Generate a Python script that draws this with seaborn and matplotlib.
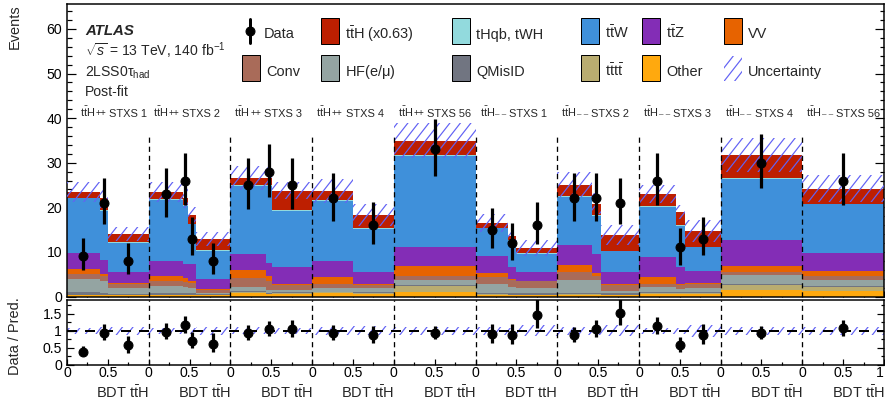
import numpy as np
import pandas as pd
import matplotlib
matplotlib.use("Agg")
import matplotlib.pyplot as plt
import matplotlib.transforms as mtransforms
from matplotlib.patches import Rectangle
from matplotlib.collections import LineCollection
from matplotlib.ticker import FixedLocator, MultipleLocator
import seaborn as sns

# ---------------- data ----------------
region_signs = ["++", "++", "++", "++", "++",
                "\u2013 \u2013", "\u2013 \u2013", "\u2013 \u2013", "\u2013 \u2013", "\u2013 \u2013"]
region_stxs = ["STXS 1", "STXS 2", "STXS 3", "STXS 4", "STXS 56",
               "STXS 1", "STXS 2", "STXS 3", "STXS 4", "STXS 56"]
region_edges = [[0, 0.4, 0.5, 1], [0, 0.42, 0.48, 0.58, 1], [0, 0.43, 0.51, 1],
                [0, 0.5, 1], [0, 1], [0, 0.4, 0.5, 1], [0, 0.42, 0.53, 1],
                [0, 0.45, 0.56, 1], [0, 1], [0, 1]]
bdt_titles = [r"BDT $\mathrm{t\bar{t}H}$"] * 5 + ["BDT ttH"] + [r"BDT $\mathrm{t\bar{t}H}$"] * 4

other  = [0.3, 0.3, 0.3, 0.3, 0.3, 0.3, 0.3, 0.7, 0.5, 0.6, 0.7, 0.6, 1.1, 0.4, 0.3, 0.3, 0.4, 0.4, 0.3, 0.5, 0.5, 0.5, 1.5, 1.3]
tttt   = [0.1, 0.1, 0.1, 0.1, 0.1, 0.1, 0.1, 0.2, 0.1, 0.1, 0.2, 0.2, 1.3, 0.1, 0.1, 0.1, 0.1, 0.1, 0.1, 0.2, 0.2, 0.2, 1.0, 0.9]
qmisid = [0.7, 0.3, 0.2, 0.3, 0.3, 0.3, 0.1, 0.3, 0.2, 0.2, 0.2, 0.2, 0.2, 0.3, 0.3, 0.3, 0.3, 0.3, 0.3, 0.3, 0.2, 0.2, 0.2, 0.2]
hf     = [2.8, 2.7, 1.2, 1.7, 1.5, 1.1, 0.3, 1.0, 0.6, 0.5, 0.8, 0.9, 1.0, 2.0, 1.5, 1.2, 2.9, 2.8, 0.5, 1.2, 0.7, 1.0, 2.1, 1.3]
conv   = [1.1, 1.1, 1.1, 1.0, 1.1, 1.2, 0.6, 1.9, 2.1, 1.2, 1.0, 0.7, 1.05, 1.5, 1.5, 1.5, 1.7, 0.9, 1.4, 0.7, 1.0, 1.0, 0.6, 0.8]
vv     = [1.1, 0.6, 0.2, 1.25, 0.9, 0.5, 0.2, 1.9, 1.1, 0.2, 1.4, 0.2, 2.25, 0.9, 0.3, 0.1, 1.6, 0.7, 0.2, 1.4, 0.3, 0.1, 1.5, 1.3]
ttz    = [3.7, 3.1, 2.5, 3.35, 3.1, 3.8, 2.4, 3.6, 3.0, 3.8, 3.7, 2.6, 4.3, 3.8, 2.7, 2.0, 4.6, 4.3, 2.8, 4.5, 3.8, 2.8, 5.7, 4.0]
ttw    = [12.2, 11.0, 6.5, 13.7, 13.0, 8.9, 6.2, 15.2, 17.2, 12.6, 13.4, 9.8, 20.3, 6.3, 5.8, 4.0, 10.8, 8.6, 4.5, 11.3, 9.1, 5.2, 13.8, 10.9]
thqb   = [0.15] * 24
tth    = [1.3, 2.8, 1.7, 1.6, 1.7, 2.0, 2.5, 1.7, 1.7, 4.4, 2.1, 2.9, 3.3, 1.1, 0.9, 1.3, 2.5, 2.6, 3.5, 2.7, 3.0, 3.6, 5.1, 3.3]
unc    = [2.3, 2.2, 1.6, 2.2, 2.2, 1.8, 1.6, 2.7, 2.7, 1.9, 2.6, 2.4, 4.0, 2.0, 1.2, 1.8, 2.8, 2.4, 2.2, 2.0, 1.5, 2.5, 3.8, 3.0]

data    = [9, 21, 8, 23, 26, 13, 8, 25, 28, 25, 22, 16, 33, 15, 12, 16, 22, 22, 21, 26, 11, 13, 30, 26]
data_lo = [5.9, 16.3, 5.0, 17.9, 20.6, 9.2, 5.0, 19.7, 22.4, 19.7, 17.0, 11.8, 27.1, 10.9, 8.2, 11.8, 17.0, 17.0, 16.3, 20.6, 7.1, 9.2, 24.4, 20.6]
data_hi = [13.1, 26.6, 12.0, 28.8, 32.1, 17.9, 12.0, 31.1, 34.3, 31.1, 27.7, 21.1, 39.8, 19.9, 16.4, 21.1, 27.7, 27.7, 26.6, 32.1, 15.3, 17.9, 36.4, 32.1]

# stacking order: first = top
proc_keys = ["ttH", "tHqb", "ttW", "ttZ", "VV", "Conv", "HF", "QMisID", "tttt", "Other"]
proc_vals = [tth, thqb, ttw, ttz, vv, conv, hf, qmisid, tttt, other]
proc_cols = ["#bd1f01", "#92dadd", "#3f90da", "#832db6", "#e76300",
             "#a96b59", "#94a4a2", "#717581", "#b9ac70", "#ffa90e"]
legend_row1 = [r"$\mathrm{t\bar{t}H}$ (x0.63)", "tHqb, tWH", r"$\mathrm{t\bar{t}W}$",
               r"$\mathrm{t\bar{t}Z}$", "VV"]
legend_row2 = ["Conv", r"HF(e/$\mathrm{\mu}$)", "QMisID", r"$\mathrm{t\bar{t}t\bar{t}}$", "Other"]
HATCH = "#6262f4"

# ---------------- derived ----------------
nreg = len(region_edges)
gl_edges = np.concatenate([np.array(e[:-1], float) + i for i, e in enumerate(region_edges)] + [[float(nreg)]])
centers = 0.5 * (gl_edges[:-1] + gl_edges[1:])
widths = np.diff(gl_edges)
nb = len(centers)
total = np.sum(np.array(proc_vals), axis=0)
unc_a = np.array(unc)
data_a = np.array(data, float)
lo_a = np.array(data_lo)
hi_a = np.array(data_hi)

df = pd.DataFrame({
    "x": np.tile(centers, len(proc_keys)),
    "w": np.concatenate(proc_vals),
    "proc": np.repeat(proc_keys, nb),
})

# ---------------- style ----------------
sns.set_style("ticks")
plt.rcParams.update({
    "font.family": ["Liberation Sans", "DejaVu Sans"],
    "mathtext.fontset": "custom",
    "mathtext.rm": "Liberation Sans",
    "mathtext.it": "Liberation Sans:italic",
    "mathtext.bf": "Liberation Sans:bold",
    "axes.linewidth": 1.5,
    "axes.edgecolor": "black",
    "xtick.color": "black",
    "ytick.color": "black",
})

W, H = 885, 408
fig = plt.figure(figsize=(W / 72, H / 72), dpi=72)
renderer = fig.canvas.get_renderer()


def axrect(l, t, r, b):
    return [l / W, 1 - b / H, (r - l) / W, (b - t) / H]


# diagonal hatch lines in display pixels (clipped to each uncertainty box)
def hatch_lines(spacing=10.5, angle=52):
    run = H / np.tan(np.radians(angle))
    starts = np.arange(-run - spacing, W + spacing, spacing)
    return [[(s, 0), (s + run, H)] for s in starts]


HSEGS = hatch_lines()


def add_hatch(axis, patches, z):
    for p in patches:
        lc = LineCollection(HSEGS, colors=HATCH, linewidths=1.2,
                            transform=mtransforms.IdentityTransform(), zorder=z)
        axis.add_collection(lc, autolim=False)
        lc.set_clip_path(p)


ax = fig.add_axes(axrect(67, 4, 884, 296.5))
ax_r = fig.add_axes(axrect(67, 299.5, 884, 365))

# ---- main stack ----
sns.histplot(data=df, x="x", weights="w", hue="proc", hue_order=proc_keys,
             palette=dict(zip(proc_keys, proc_cols)), bins=[float(b) for b in gl_edges],
             multiple="stack", element="bars", linewidth=0, alpha=1,
             legend=False, ax=ax)
ax.set_xlim(0, nreg)
ax.set_ylim(0, 65.6)
unc_bars = ax.bar(gl_edges[:-1], 2 * unc_a, bottom=total - unc_a, width=widths, align="edge",
                  fill=False, linewidth=0, zorder=3)
add_hatch(ax, unc_bars.patches, 3)
ax.errorbar(centers, data_a, yerr=[data_a - lo_a, hi_a - data_a], fmt="o", color="black",
            ms=9, elinewidth=3.2, capsize=0, zorder=6)
ax.vlines(np.arange(1, nreg), 0, 35.7, colors="black", linestyles=(0, (4, 3)), lw=1.3, zorder=5)

ax.set_xlim(0, nreg)
ax.set_ylim(0, 65.6)
ax.set_xlabel("")
ax.set_ylabel("")
ax.yaxis.set_major_locator(MultipleLocator(10))
ax.yaxis.set_minor_locator(MultipleLocator(2))

xmaj = np.arange(0, nreg + 0.01, 0.5)
xmin = np.concatenate([[i + 0.25, i + 0.75] for i in range(nreg)])
xlabels = [("1" if v == nreg else "0") if float(v).is_integer() else "0.5" for v in xmaj]
for a in (ax, ax_r):
    a.xaxis.set_major_locator(FixedLocator(xmaj))
    a.xaxis.set_minor_locator(FixedLocator(xmin))
    a.tick_params(axis="both", which="both", direction="in", top=False, right=True,
                  width=1.2, labelsize=14)
ax.tick_params(axis="y", which="major", length=9, pad=5)
ax.tick_params(axis="y", which="minor", length=4.5)
ax.tick_params(axis="x", which="major", length=6, labelbottom=False)
ax.tick_params(axis="x", which="minor", length=3)

# region labels: ttH + small sign + STXS n
for i in range(nreg):
    x0 = i + (0.16 if i == 0 else 0.05)
    t1 = ax.text(x0, 40.2, r"$\mathrm{t\bar{t}H}$", fontsize=11, va="baseline", ha="left")
    w1 = t1.get_window_extent(renderer).width
    plus = region_signs[i] == "++"
    t2 = ax.text(x0, 40.2, region_signs[i], fontsize=9.5 if plus else 8, va="baseline", ha="left",
                 transform=mtransforms.offset_copy(ax.transData, fig=fig, x=w1 + 0.5,
                                                   y=1.0 if plus else 1.0, units="dots"))
    w2 = t2.get_window_extent(renderer).width
    ax.text(x0, 40.2, region_stxs[i], fontsize=11, va="baseline", ha="left",
            transform=mtransforms.offset_copy(ax.transData, fig=fig, x=w1 + w2 + 3.5, y=0, units="dots"))

# ---- ratio ----
ratio = data_a / total
ax_r.set_xlim(0, nreg)
ax_r.set_ylim(0, 1.92)
r_bars = ax_r.bar(gl_edges[:-1], 2 * unc_a / total, bottom=1 - unc_a / total, width=widths,
                  align="edge", fill=False, linewidth=0, zorder=2)
add_hatch(ax_r, r_bars.patches, 2)
ax_r.axhline(1, color="black", ls=(0, (5, 4)), lw=2, zorder=3)
ax_r.vlines(np.arange(1, nreg), 0, 1.92, colors="black", linestyles=(0, (4, 3)), lw=1.3, zorder=3)
ax_r.errorbar(centers, ratio, yerr=[(data_a - lo_a) / total, (hi_a - data_a) / total], fmt="o",
              color="black", ms=9, elinewidth=3.2, capsize=0, zorder=6)
ax_r.set_xlim(0, nreg)
ax_r.set_ylim(0, 1.92)
ax_r.yaxis.set_major_locator(FixedLocator([0, 0.5, 1, 1.5]))
ax_r.set_yticklabels(["0", "0.5", "1", "1.5"])
ax_r.yaxis.set_minor_locator(MultipleLocator(0.25))
ax_r.set_xticklabels(xlabels)
ax_r.get_xticklabels()[-1].set_horizontalalignment("right")
ax_r.tick_params(axis="y", which="major", length=7, pad=5)
ax_r.tick_params(axis="y", which="minor", length=3.5)
ax_r.tick_params(axis="x", which="major", length=6, pad=1)
ax_r.tick_params(axis="x", which="minor", length=3)

tr = mtransforms.blended_transform_factory(ax_r.transData, ax_r.transAxes)
for i in range(nreg):
    ax_r.text(i + 1, -0.42, bdt_titles[i], transform=tr, ha="right", va="center", fontsize=14.5)

# ---- overlay text / legend (pixel coordinates) ----
ov = fig.add_axes([0, 0, 1, 1], zorder=10)
ov.set_xlim(0, W)
ov.set_ylim(H, 0)
ov.axis("off")

fig.text(15 / W, 1 - 4 / H, "Events", rotation=90, ha="center", va="top", fontsize=14.5)
fig.text(15 / W, 1 - 297 / H, "Data / Pred.", rotation=90, ha="center", va="top", fontsize=14.5)

ov.text(85, 35, "ATLAS", fontsize=15, fontweight="bold", fontstyle="italic", va="baseline")
ov.text(85, 56, r"$\sqrt{s}$ = 13 TeV, 140 fb$^{-1}$", fontsize=14, va="baseline")
ov.text(85, 76.5, r"2LSS0$\mathrm{\tau_{had}}$", fontsize=14, va="baseline")
ov.text(85, 96.5, "Post-fit", fontsize=14, va="baseline")

# Data entry
ov.plot([250, 250], [19, 43], color="black", lw=3)
ov.plot([250], [31], "o", color="black", ms=9)
ov.text(264, 38.5, "Data", fontsize=14.5, va="baseline")

col_x1 = [321, 452, 581, 642, 724]
col_x2 = [242, 321, 452, 581, 642]
row1_keys = ["ttH", "tHqb", "ttW", "ttZ", "VV"]
row2_keys = ["Conv", "HF", "QMisID", "tttt", "Other"]
cmap = dict(zip(proc_keys, proc_cols))
for x0, k, lab in zip(col_x1, row1_keys, legend_row1):
    ov.add_patch(Rectangle((x0, 18), 18, 26, facecolor=cmap[k], edgecolor="black", lw=1))
    ov.text(x0 + 24, 38.5, lab, fontsize=14.5, va="baseline")
for x0, k, lab in zip(col_x2, row2_keys, legend_row2):
    ov.add_patch(Rectangle((x0, 55), 18, 26, facecolor=cmap[k], edgecolor="black", lw=1))
    ov.text(x0 + 24, 76, lab, fontsize=14.5, va="baseline")
unc_leg = Rectangle((724, 56), 18, 25, fill=False, lw=0)
ov.add_patch(unc_leg)
add_hatch(ov, [unc_leg], 11)
ov.text(748, 76, "Uncertainty", fontsize=14.5, va="baseline")

fig.savefig("out.png", dpi=72)
